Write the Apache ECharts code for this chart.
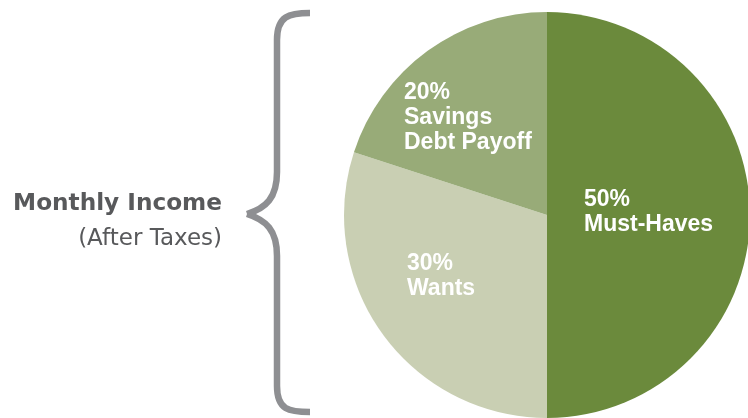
<!DOCTYPE html>
<html>
<head>
<meta charset="utf-8">
<script src="https://cdn.jsdelivr.net/npm/echarts@6/dist/echarts.min.js"></script>
<style>
  html, body { margin: 0; padding: 0; background: #ffffff; }
  #chart { width: 748px; height: 418px; }
</style>
</head>
<body>
<div id="chart"></div>
<script>
// Budget split of monthly take-home pay
const categories = ['Must-Haves', 'Wants', 'Savings\nDebt Payoff'];
const shares = [50, 30, 20];
const sliceColors = ['#6b8a3c', '#c9cfb3', '#98ab78'];

const chart = echarts.init(document.getElementById('chart'), null, { renderer: 'canvas' });

// label anchors (left/top of each text block), per slice
const labelAnchors = [
  { x: 584, y: 187 },
  { x: 407, y: 251 },
  { x: 404, y: 80 }
];

// curly brace built from curve and line pieces
const braceStyle = { fill: 'none', stroke: '#8e8f92', lineWidth: 6.5, lineCap: 'butt' };
function curve(x1, y1, cx1, cy1, cx2, cy2, x2, y2) {
  return { type: 'bezierCurve', shape: { x1, y1, cpx1: cx1, cpy1: cy1, cpx2: cx2, cpy2: cy2, x2, y2 }, style: braceStyle };
}
function seg(x1, y1, x2, y2) {
  return { type: 'line', shape: { x1, y1, x2, y2 }, style: braceStyle };
}
const brace = [
  curve(310, 13, 289, 13, 277, 16, 277, 40),
  seg(277, 40, 277, 172),
  curve(277, 172, 277, 198, 266, 208, 247, 214),
  curve(247, 214, 266, 220, 277, 230, 277, 256),
  seg(277, 256, 277, 386),
  curve(277, 386, 277, 410, 289, 412, 310, 412)
];

const option = {
  animation: false,
  backgroundColor: '#ffffff',
  series: [{
    type: 'pie',
    center: [547, 215],
    radius: [0, 203],
    startAngle: 90,
    clockwise: true,
    silent: true,
    data: categories.map((name, i) => ({
      name: name,
      value: shares[i],
      itemStyle: { color: sliceColors[i] }
    })),
    itemStyle: { borderWidth: 0 },
    label: {
      show: true,
      position: 'inside',
      formatter: p => p.value + '%\n' + p.name,
      color: '#ffffff',
      fontFamily: 'Liberation Sans, Arial, sans-serif',
      fontWeight: 'bold',
      fontSize: 23,
      lineHeight: 25,
      align: 'left'
    },
    labelLine: { show: false },
    labelLayout: function (params) {
      const a = labelAnchors[params.dataIndex];
      return { x: a.x, y: a.y, align: 'left', verticalAlign: 'top' };
    }
  }],
  graphic: brace.concat([
    {
      type: 'text',
      x: 222,
      y: 204,
      style: {
        text: 'Monthly Income',
        fill: '#58595b',
        fontFamily: 'DejaVu Sans, sans-serif',
        fontWeight: 'bold',
        fontSize: 23.2,
        align: 'right',
        verticalAlign: 'middle'
      }
    },
    {
      type: 'text',
      x: 222,
      y: 239,
      style: {
        text: '(After Taxes)',
        fill: '#58595b',
        fontFamily: 'DejaVu Sans, sans-serif',
        fontSize: 23,
        align: 'right',
        verticalAlign: 'middle'
      }
    }
  ])
};

chart.setOption(option);
</script>
</body>
</html>
